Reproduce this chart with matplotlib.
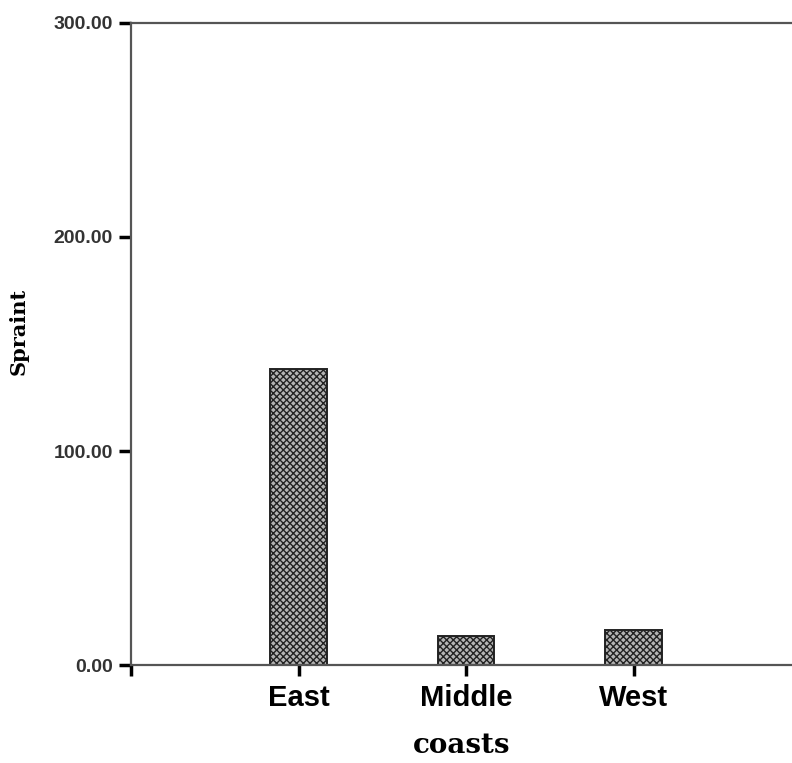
import matplotlib
matplotlib.use("Agg")
import matplotlib.pyplot as plt

coasts = ["East", "Middle", "West"]
spraint = [138.3, 13.5, 16.4]
y_ticks = [0, 100, 200, 300]

plt.rcParams['hatch.linewidth'] = 1.0
plt.rcParams['hatch.color'] = '#333333'

fig = plt.figure(figsize=(7.92, 7.63), dpi=100)
ax = fig.add_axes([0.1654, 0.1284, 1 - 0.1654, 0.8415])

pos = list(range(len(coasts)))
ax.bar(pos, spraint, width=0.34, color='#b4b4b4', edgecolor='#222222',
       linewidth=1.4, hatch='xxxxx', zorder=2)

ax.set_xlim(-1, 2.946)
ax.set_ylim(0, 300)
ax.set_yticks(y_ticks)
ax.set_yticklabels(["%.2f" % v for v in y_ticks], fontsize=14,
                   fontweight='bold', color='#333333', family='Liberation Sans')
ax.set_xticks([-1] + pos)
ax.set_xticklabels([""] + coasts, fontsize=21, fontweight='bold',
                   family='Liberation Sans')

ax.tick_params(axis='y', direction='out', length=9, width=2.5, pad=4)
ax.tick_params(axis='x', direction='out', length=8, width=2.5, pad=6)

for s in ['left', 'bottom', 'top']:
    ax.spines[s].set_color('#555555')
    ax.spines[s].set_linewidth(1.6)
ax.spines['right'].set_visible(False)

ax.set_ylabel("Spraint", fontsize=15, fontweight='bold', family='DejaVu Serif')
ax.yaxis.set_label_coords(-0.155, 0.52)
ax.set_xlabel("coasts", fontsize=20, fontweight='bold', family='DejaVu Serif',
              labelpad=14)

fig.savefig("out.png", dpi=100)
